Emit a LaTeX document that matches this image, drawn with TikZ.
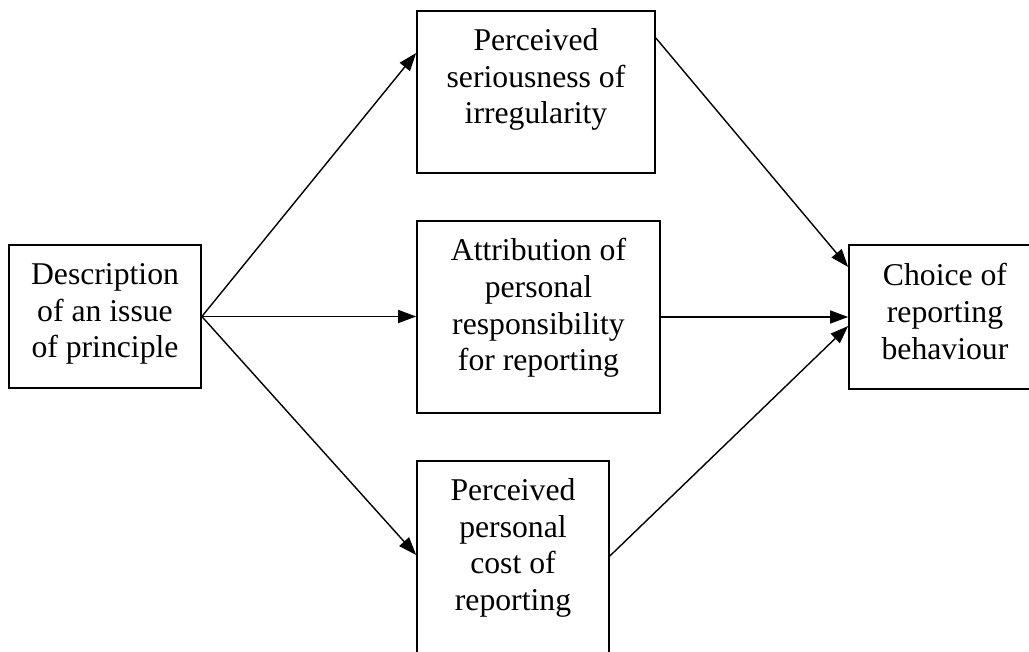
\documentclass[tikz,border=0pt]{standalone}
\usepackage{fontspec}
\setmainfont{Liberation Serif}
\usetikzlibrary{arrows.meta}
\begin{document}
\begin{tikzpicture}[x=1pt,y=-1pt,
  box/.style={draw, line width=1.7pt, inner sep=0pt},
  lbl/.style={anchor=north, align=center, inner sep=0pt, font=\fontsize{31.7}{36.6}\selectfont},
  conn/.style={line width=1.4pt, -{Triangle[length=18pt,width=13pt]}}]
\useasboundingbox (0,0) rectangle (1029,652);
% boxes
\node[box, minimum width=192pt, minimum height=143pt] (L) at (105,316.5) {};
\node[box, minimum width=238pt, minimum height=162pt] (T) at (536,92) {};
\node[box, minimum width=243pt, minimum height=192pt] (M) at (538.5,317) {};
\node[box, minimum width=192pt, minimum height=199pt] (B) at (513,560.5) {};
\node[box, minimum width=192pt, minimum height=144pt] (R) at (945,317) {};
% texts
\node[lbl] (Ltext) at (105,263.3) {Description\\of an issue\\of principle};
\node[lbl] (Ttext) at (536,28.3) {Perceived\\seriousness of\\irregularity};
\node[lbl] (Mtext) at (538.5,238.3) {Attribution of\\personal\\responsibility\\for reporting};
\node[lbl] (Btext) at (513,478.3) {Perceived\\personal\\cost of\\reporting};
\node[lbl] (Rtext) at (945,263.3) {Choice of\\reporting\\behaviour};
% connectors
\draw[conn] (L.east) -- ([yshift=39pt]T.west);
\draw[conn] (L.east) -- (L.east -| M.west);
\draw[conn] (L.east) -- ([yshift=5.5pt]B.west);
\draw[conn] ([yshift=54pt]T.east) -- ([yshift=50pt]R.west);
\draw[conn] (M.east) -- (R.west);
\draw[conn] ([yshift=4.5pt]B.east) -- ([yshift=-9pt]R.west);
\end{tikzpicture}
\end{document}
